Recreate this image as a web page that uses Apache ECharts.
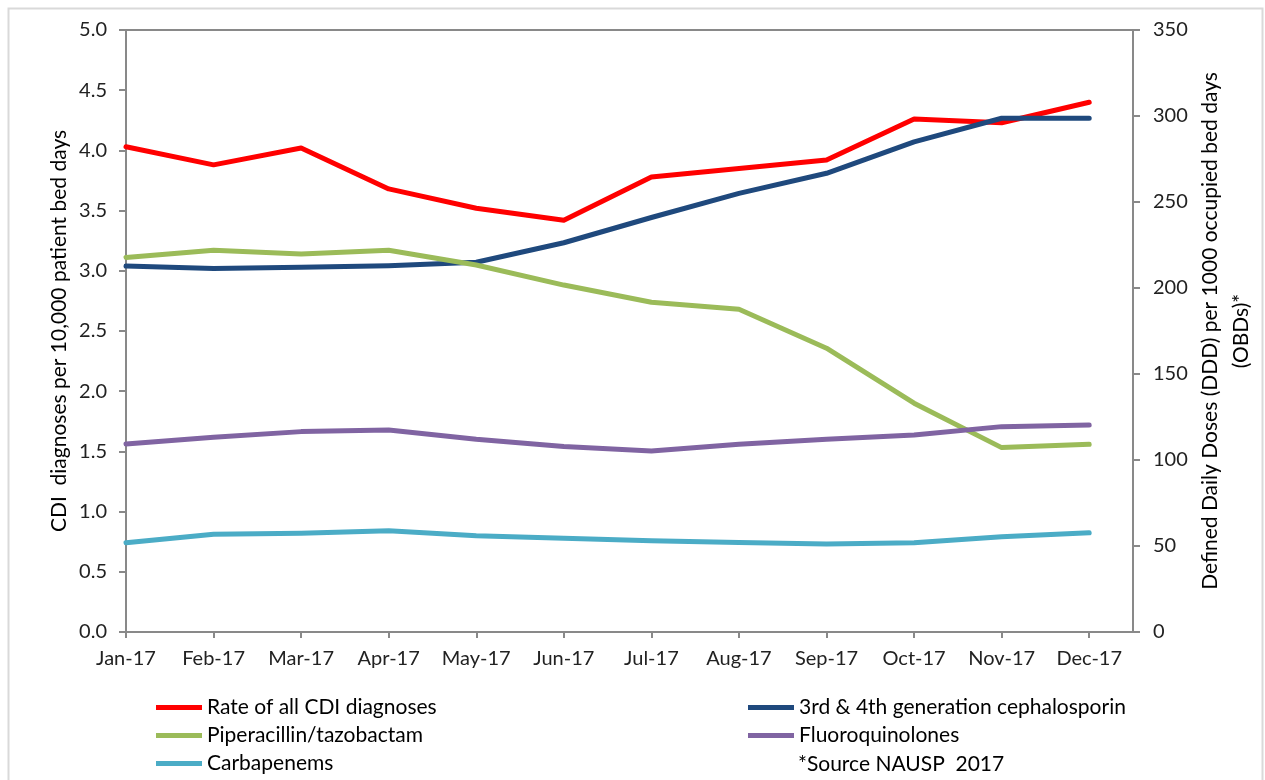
<!DOCTYPE html>
<html>
<head>
<meta charset="utf-8">
<script src="https://cdn.jsdelivr.net/npm/echarts@6/dist/echarts.min.js"></script>
<style>
html,body{margin:0;padding:0;background:#fff;}
#chart{width:1265px;height:780px;}
</style>
</head>
<body>
<div id="chart"></div>
<script>
const months = ['Jan-17','Feb-17','Mar-17','Apr-17','May-17','Jun-17','Jul-17','Aug-17','Sep-17','Oct-17','Nov-17','Dec-17'];
const cdiRate = [4.03, 3.88, 4.02, 3.68, 3.52, 3.42, 3.78, 3.85, 3.92, 4.26, 4.23, 4.40];
const cephalosporin = [212.8, 211.4, 212.0, 213.0, 215.0, 226.3, 241.0, 255.0, 266.7, 285.0, 298.7, 298.7];
const piperacillin = [217.8, 222.0, 219.8, 222.0, 213.4, 201.7, 191.7, 187.6, 165.0, 133.0, 107.2, 109.1];
const fluoroquinolones = [109.3, 113.2, 116.5, 117.4, 112.0, 107.8, 105.3, 109.1, 112.0, 114.5, 119.4, 120.3];
const carbapenems = [51.9, 56.8, 57.4, 58.9, 56.0, 54.5, 53.0, 52.1, 51.2, 51.9, 55.4, 57.7];
const leftTicks = {min: 0, max: 5, interval: 0.5};
const rightTicks = {min: 0, max: 350, interval: 50};
const names = {
  cdi: 'Rate of all CDI diagnoses',
  ceph: '3rd & 4th generation cephalosporin',
  pip: 'Piperacillin/tazobactam',
  fq: 'Fluoroquinolones',
  carb: 'Carbapenems'
};
const sourceNote = '*Source NAUSP  2017';
const leftAxisName = 'CDI  diagnoses per 10,000 patient bed days';
const rightAxisName = 'Defined Daily Doses (DDD) per 1000 occupied bed days\n(OBDs)*';

const FONT = 'Lato, "Liberation Sans", sans-serif';
const axisGray = '#898989';
const toPts = arr => arr.map((v, i) => [i, v]);
const monthIdx = months.map((m, i) => i);

const chart = echarts.init(document.getElementById('chart'));

function lineSeries(name, data, color, yIdx) {
  return {
    name: name, type: 'line', yAxisIndex: yIdx, data: toPts(data),
    symbol: 'none', smooth: false,
    lineStyle: {color: color, width: 5, cap: 'round', join: 'round'},
    itemStyle: {color: color},
    emphasis: {disabled: true}
  };
}

function legendAt(name, left, top) {
  return {
    data: [name], left: left, top: top, padding: 0,
    icon: 'rect', itemWidth: 46, itemHeight: 5,
    textStyle: {fontFamily: FONT, fontSize: 21, color: '#000'},
    selectedMode: false
  };
}

chart.setOption({
  animation: false,
  backgroundColor: '#fff',
  grid: {left: 126, right: 132, top: 30, bottom: 148, show: true, borderColor: axisGray, borderWidth: 2, backgroundColor: 'transparent'},
  xAxis: {
    type: 'value', min: 0, max: 11.5, interval: 1,
    axisLine: {show: true, lineStyle: {color: axisGray, width: 2}},
    axisTick: {show: true, length: 6, lineStyle: {color: axisGray, width: 2}, customValues: monthIdx},
    axisLabel: {customValues: monthIdx, formatter: v => months[Math.round(v)] || '', fontFamily: FONT, fontSize: 20, color: '#222', margin: 17},
    splitLine: {show: false}
  },
  yAxis: [
    {
      type: 'value', position: 'left', min: leftTicks.min, max: leftTicks.max, interval: leftTicks.interval,
      name: leftAxisName, nameLocation: 'middle', nameRotate: 90, nameGap: 56, nameMoveOverlap: false,
      nameTextStyle: {fontFamily: FONT, fontSize: 21, color: '#000'},
      axisLine: {show: true, lineStyle: {color: axisGray, width: 2}},
      axisTick: {show: true, length: 7, lineStyle: {color: axisGray, width: 2}},
      axisLabel: {formatter: v => v.toFixed(1), fontFamily: FONT, fontSize: 20, color: '#222', margin: 19},
      splitLine: {show: false}
    },
    {
      type: 'value', position: 'right', min: rightTicks.min, max: rightTicks.max, interval: rightTicks.interval,
      name: rightAxisName, nameLocation: 'middle', nameRotate: 90, nameGap: 62, nameMoveOverlap: false,
      nameTextStyle: {fontFamily: FONT, fontSize: 21, color: '#000', lineHeight: 31, align: 'center'},
      axisLine: {show: true, lineStyle: {color: axisGray, width: 2}},
      axisTick: {show: true, length: 7, lineStyle: {color: axisGray, width: 2}},
      axisLabel: {fontFamily: FONT, fontSize: 20, color: '#222', margin: 20},
      splitLine: {show: false}
    }
  ],
  legend: [
    legendAt(names.cdi, 156, 697),
    legendAt(names.pip, 156, 725),
    legendAt(names.carb, 156, 753),
    legendAt(names.ceph, 748, 697),
    legendAt(names.fq, 748, 725)
  ],
  graphic: [
    {type: 'rect', silent: true, shape: {x: 8.5, y: 8.5, width: 1254, height: 800}, style: {fill: 'none', stroke: '#d9d9d9', lineWidth: 2}},
    {type: 'text', silent: true, style: {text: sourceNote, x: 798, y: 764, font: '21px ' + FONT, fill: '#000', verticalAlign: 'middle'}}
  ],
  series: [
    lineSeries(names.cdi, cdiRate, '#FF0000', 0),
    lineSeries(names.ceph, cephalosporin, '#1F497D', 1),
    lineSeries(names.pip, piperacillin, '#9BBB59', 1),
    lineSeries(names.fq, fluoroquinolones, '#8064A2', 1),
    lineSeries(names.carb, carbapenems, '#4BACC6', 1)
  ]
});
</script>
</body>
</html>
